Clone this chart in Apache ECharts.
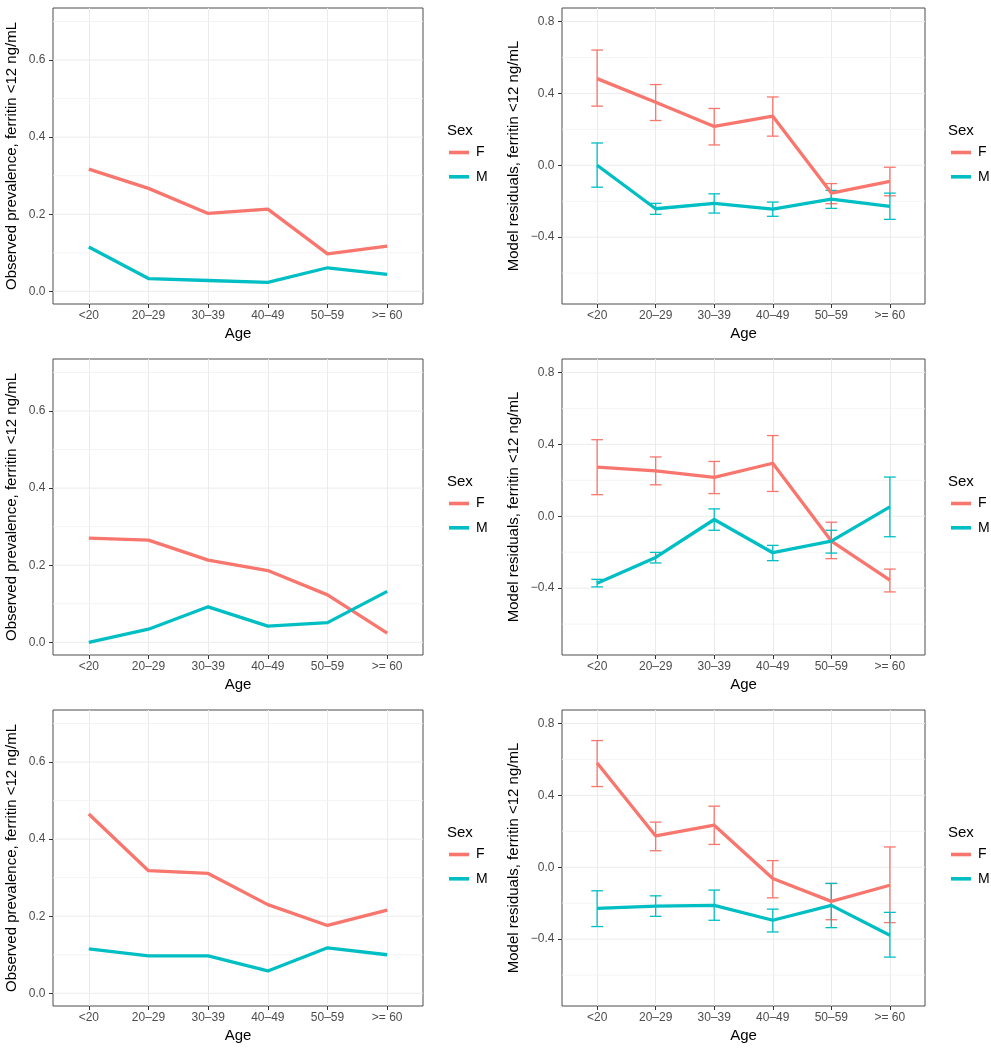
<!DOCTYPE html>
<html><head><meta charset="utf-8">
<script src="https://cdn.jsdelivr.net/npm/echarts@6/dist/echarts.min.js"></script>
<style>html,body{margin:0;padding:0;background:#fff}#c{width:991px;height:1050px}</style>
</head><body><div id="c"></div>
<script>
// ---------- data ----------
const ageGroups = ['<20', '20–29', '30–39', '40–49', '50–59', '>= 60'];
const sexes = ['F', 'M'];

const prevTicks = [0, 0.2, 0.4, 0.6];
const prevMinor = [0.1, 0.3, 0.5, 0.7];
const residTicks = [-0.4, 0, 0.4, 0.8];
const residMinor = [-0.6, -0.2, 0.2, 0.6];

// Row 1
const prev1F = [0.317, 0.267, 0.202, 0.213, 0.097, 0.117];
const prev1M = [0.115, 0.033, 0.028, 0.023, 0.061, 0.044];
const resid1F = [0.482, 0.351, 0.216, 0.273, -0.155, -0.090];
const resid1FLow = [0.329, 0.249, 0.113, 0.162, -0.214, -0.170];
const resid1FHigh = [0.641, 0.449, 0.316, 0.380, -0.102, -0.011];
const resid1M = [0.000, -0.242, -0.212, -0.244, -0.188, -0.229];
const resid1MLow = [-0.122, -0.273, -0.266, -0.284, -0.240, -0.301];
const resid1MHigh = [0.124, -0.212, -0.159, -0.205, -0.140, -0.155];

// Row 2
const prev2F = [0.270, 0.265, 0.213, 0.186, 0.123, 0.024];
const prev2M = [0.000, 0.034, 0.092, 0.042, 0.051, 0.132];
const resid2F = [0.273, 0.253, 0.216, 0.295, -0.138, -0.356];
const resid2FLow = [0.120, 0.175, 0.126, 0.138, -0.236, -0.421];
const resid2FHigh = [0.426, 0.330, 0.305, 0.449, -0.033, -0.294];
const resid2M = [-0.373, -0.229, -0.018, -0.203, -0.138, 0.052];
const resid2MLow = [-0.393, -0.260, -0.078, -0.247, -0.205, -0.114];
const resid2MHigh = [-0.351, -0.201, 0.041, -0.162, -0.078, 0.218];

// Row 3
const prev3F = [0.465, 0.318, 0.311, 0.230, 0.176, 0.216];
const prev3M = [0.115, 0.097, 0.097, 0.058, 0.118, 0.100];
const resid3F = [0.580, 0.174, 0.234, -0.063, -0.190, -0.100];
const resid3FLow = [0.449, 0.092, 0.127, -0.170, -0.292, -0.308];
const resid3FHigh = [0.705, 0.251, 0.340, 0.037, -0.090, 0.113];
const resid3M = [-0.229, -0.216, -0.212, -0.295, -0.212, -0.378];
const resid3MLow = [-0.330, -0.273, -0.295, -0.360, -0.336, -0.500];
const resid3MHigh = [-0.131, -0.159, -0.127, -0.233, -0.090, -0.251];

// ---------- styling / layout ----------
const FONT = '"Liberation Sans", Arial, Helvetica, sans-serif';
const COLORS = { F: '#F8766D', M: '#00BFC4' };
const rowTops = [8, 359, 710];
const PANEL_H = 296;
const cols = [
  { left: 53, width: 370, ymin: -0.033, ymax: 0.735, ticks: prevTicks, minor: prevMinor,
    yname: 'Observed prevalence, ferritin <12 ng/mL', nameGap: 34, legLeft: 449, titleLeft: 447 },
  { left: 562, width: 363, ymin: -0.772, ymax: 0.875, ticks: residTicks, minor: residMinor,
    yname: 'Model residuals, ferritin <12 ng/mL', nameGap: 41, legLeft: 951, titleLeft: 948 }
];

const rows = [
  { prev: { F: prev1F, M: prev1M },
    resid: { F: [resid1F, resid1FLow, resid1FHigh], M: [resid1M, resid1MLow, resid1MHigh] } },
  { prev: { F: prev2F, M: prev2M },
    resid: { F: [resid2F, resid2FLow, resid2FHigh], M: [resid2M, resid2MLow, resid2MHigh] } },
  { prev: { F: prev3F, M: prev3M },
    resid: { F: [resid3F, resid3FLow, resid3FHigh], M: [resid3M, resid3MLow, resid3MHigh] } }
];

function fmtNum(v) {
  const s = Math.abs(v).toFixed(1);
  return (v < -1e-9 ? '−' : '') + s;
}

function gridLineRenderer(width, color) {
  return function (params, api) {
    const y = api.coord([0, api.value(1)])[1];
    const cs = params.coordSys;
    return { type: 'line', shape: { x1: cs.x, y1: y, x2: cs.x + cs.width, y2: y },
      style: { stroke: color, lineWidth: width } };
  };
}

function errRenderer(color) {
  return function (params, api) {
    const x = api.value(0);
    const pLo = api.coord([x, api.value(1)]);
    const pHi = api.coord([x, api.value(2)]);
    const half = api.size([0.1, 0])[0];
    const style = { stroke: color, lineWidth: 1.3, fill: null };
    return { type: 'group', children: [
      { type: 'line', shape: { x1: pLo[0], y1: pHi[1], x2: pLo[0], y2: pLo[1] }, style },
      { type: 'line', shape: { x1: pLo[0] - half, y1: pHi[1], x2: pLo[0] + half, y2: pHi[1] }, style },
      { type: 'line', shape: { x1: pLo[0] - half, y1: pLo[1], x2: pLo[0] + half, y2: pLo[1] }, style }
    ] };
  };
}

const option = {
  animation: false,
  backgroundColor: '#ffffff',
  textStyle: { fontFamily: FONT },
  grid: [], xAxis: [], yAxis: [], series: [], legend: [], title: []
};

rows.forEach((row, r) => {
  cols.forEach((col, c) => {
    const p = option.grid.length;
    const top = rowTops[r];
    option.grid.push({
      left: col.left, top: top, width: col.width, height: PANEL_H,
      show: true, borderColor: '#4d4d4d', borderWidth: 1, backgroundColor: '#ffffff',
      containLabel: false, outerBoundsMode: 'none'
    });
    option.xAxis.push({
      type: 'value', gridIndex: p, min: -0.6, max: 5.6, position: 'bottom',
      name: 'Age', nameLocation: 'middle', nameGap: 22,
      nameTextStyle: { fontSize: 15, color: '#000', fontFamily: FONT },
      axisLine: { show: false, onZero: false },
      axisTick: { show: true, length: 4, customValues: ageGroups.map((_, i) => i),
        lineStyle: { color: '#333333', width: 1 } },
      axisLabel: { show: true, margin: 6, fontSize: 12, color: '#4d4d4d', fontFamily: FONT,
        customValues: ageGroups.map((_, i) => i),
        formatter: v => (Number.isInteger(v) ? ageGroups[v] : '') },
      splitLine: { show: true, lineStyle: { color: '#ebebeb', width: 1 } },
      minorSplitLine: { show: false }
    });
    option.yAxis.push({
      type: 'value', gridIndex: p, min: col.ymin, max: col.ymax, position: 'left',
      name: col.yname, nameLocation: 'middle', nameRotate: 90, nameGap: col.nameGap,
      nameTextStyle: { fontSize: 15, color: '#000', fontFamily: FONT },
      axisLine: { show: false, onZero: false },
      axisTick: { show: true, length: 4, customValues: col.ticks,
        lineStyle: { color: '#333333', width: 1 } },
      axisLabel: { show: true, margin: 7.5, fontSize: 12, color: '#4d4d4d', fontFamily: FONT,
        customValues: col.ticks, formatter: fmtNum },
      splitLine: { show: false }
    });

    // horizontal grid lines (minor then major)
    option.series.push({
      type: 'custom', name: 'minor grid', xAxisIndex: p, yAxisIndex: p, silent: true, z: 1,
      data: col.minor.map(v => [0, v]), encode: { x: 0, y: 1 },
      renderItem: gridLineRenderer(0.8, '#f1f1f1')
    });
    option.series.push({
      type: 'custom', name: 'major grid', xAxisIndex: p, yAxisIndex: p, silent: true, z: 1,
      data: col.ticks.map(v => [0, v]), encode: { x: 0, y: 1 },
      renderItem: gridLineRenderer(1, '#ebebeb')
    });

    if (c === 0) {
      sexes.forEach(s => {
        option.series.push({
          type: 'line', name: s, xAxisIndex: p, yAxisIndex: p, z: 3, silent: true,
          data: row.prev[s].map((v, i) => [i, v]),
          symbol: 'none', lineStyle: { color: COLORS[s], width: 3.3 }, itemStyle: { color: COLORS[s] }
        });
      });
    } else {
      sexes.forEach(s => {
        const [mid, lo, hi] = row.resid[s];
        option.series.push({
          type: 'custom', name: s + ' error', xAxisIndex: p, yAxisIndex: p, z: 2, silent: true,
          data: mid.map((v, i) => [i, lo[i], hi[i]]), encode: { x: 0, y: [1, 2] },
          renderItem: errRenderer(COLORS[s])
        });
      });
      sexes.forEach(s => {
        const [mid] = row.resid[s];
        option.series.push({
          type: 'line', name: s, xAxisIndex: p, yAxisIndex: p, z: 3, silent: true,
          data: mid.map((v, i) => [i, v]),
          symbol: 'none', lineStyle: { color: COLORS[s], width: 3.3 }, itemStyle: { color: COLORS[s] }
        });
      });
    }

    option.title.push({
      text: 'Sex', left: col.titleLeft, top: top + 115, padding: 0,
      textStyle: { fontSize: 15, fontWeight: 'normal', color: '#000', fontFamily: FONT }
    });
    option.legend.push({
      data: sexes.map(s => ({ name: s, icon: 'rect' })),
      orient: 'vertical', left: col.legLeft, top: top + 137.5, padding: 0,
      itemWidth: 20, itemHeight: 3.6, itemGap: 10.3, selectedMode: false,
      textStyle: { fontSize: 14, lineHeight: 14, color: '#000', fontFamily: FONT, padding: [0, 0, 0, 2] }
    });
  });
});

const chart = echarts.init(document.getElementById('c'), null, { renderer: 'canvas' });
chart.setOption(option);
</script>
</body></html>
